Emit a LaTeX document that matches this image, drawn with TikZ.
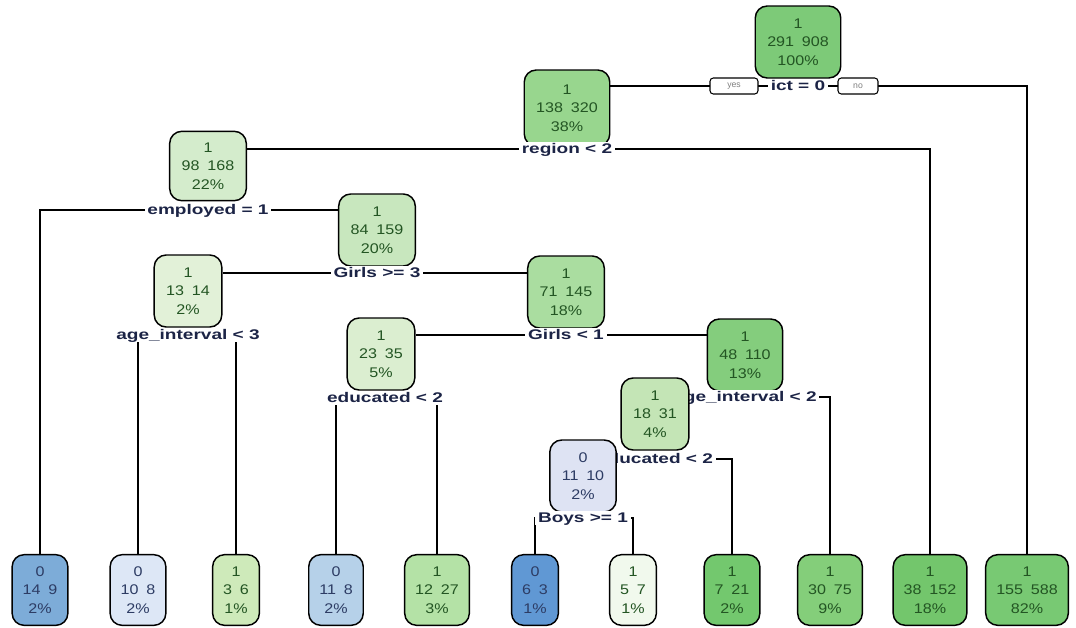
\documentclass[tikz,border=0pt]{standalone}
\usepackage{fontspec}
\setmainfont{Liberation Sans}
\newfontfamily\nodefont[FakeStretch=1.15]{Liberation Sans}
\newfontfamily\labfont[FakeStretch=1.36]{Liberation Sans}
\usetikzlibrary{calc}
\pgfdeclarelayer{bg}
\pgfdeclarelayer{edges}
\pgfsetlayers{bg,edges,main}

% two-space gap between the class counts
\newcommand\twosp{\hspace{0.556em}}

% text colours
\definecolor{gtext}{RGB}{35,85,35}
\definecolor{btext}{RGB}{45,60,100}
\definecolor{labtext}{RGB}{28,36,70}
% box fills
\definecolor{c1}{RGB}{125,202,120}
\definecolor{c2}{RGB}{152,214,142}
\definecolor{c4}{RGB}{212,236,204}
\definecolor{c5}{RGB}{200,231,190}
\definecolor{c10}{RGB}{226,241,216}
\definecolor{c11}{RGB}{170,221,160}
\definecolor{c22}{RGB}{219,238,208}
\definecolor{c23}{RGB}{132,205,125}
\definecolor{c46}{RGB}{196,229,182}
\definecolor{c92}{RGB}{222,227,243}
\definecolor{f1}{RGB}{125,172,216}
\definecolor{f2}{RGB}{221,231,246}
\definecolor{f3}{RGB}{206,234,186}
\definecolor{f4}{RGB}{182,209,233}
\definecolor{f5}{RGB}{180,226,166}
\definecolor{f6}{RGB}{96,152,212}
\definecolor{f7}{RGB}{241,249,237}
\definecolor{f8}{RGB}{115,200,110}
\definecolor{f9}{RGB}{132,206,122}
\definecolor{f10}{RGB}{115,198,108}
\definecolor{f11}{RGB}{120,201,115}

\tikzset{
  tnode/.style={draw=black, line width=1.1pt, rounded corners=9pt,
    minimum height=54pt, inner xsep=9pt, inner ysep=0pt, align=center,
    font=\nodefont\fontsize{10.5}{13.8}\selectfont, text=gtext},
  leaf/.style={tnode, inner xsep=7.9pt, minimum height=53pt},
  bluetxt/.style={text=btext},
  split/.style={fill=white, inner xsep=2pt, inner ysep=0pt,
    text height=8pt, text depth=2pt,
    font=\labfont\bfseries\fontsize{10.5}{12}\selectfont, text=labtext},
  yn/.style={draw=black, line width=0.8pt, rounded corners=2.5pt, fill=white,
    minimum height=12pt, inner sep=0pt,
    font=\fontsize{6.5}{7}\selectfont, text=gray},
  edge/.style={draw=black, line width=1.2pt}
}

\begin{document}
\begin{tikzpicture}[x=0.75pt,y=-0.75pt]
\begin{pgfonlayer}{bg}
\path[use as bounding box, fill=white] (0,0) rectangle (1076,628);
\end{pgfonlayer}

% inner nodes, each followed by its split label
\node[tnode, fill=c1] (n1) at (798,42) {1\\291\twosp 908\\100\%};
\node[split] (s1) at (798,86) {ict = 0};
\node[yn, minimum width=36pt] (yes) at (734,86) {yes};
\node[yn, minimum width=30pt] (no) at (858,86) {no};

\node[tnode, fill=c2, minimum height=57pt] (n2) at (567,108) {1\\138\twosp 320\\38\%};
\node[split] (s2) at (567,149) {region < 2};

\node[tnode, fill=c4, minimum height=52pt] (n4) at (208,166) {1\\98\twosp 168\\22\%};
\node[split] (s4) at (208,210) {employed = 1};

\node[tnode, fill=c5] (n5) at (377,230) {1\\84\twosp 159\\20\%};
\node[split] (s5) at (377,273) {Girls >= 3};

\node[tnode, fill=c10] (n10) at (188,291) {1\\13\twosp 14\\2\%};
\node[split] (s10) at (188,335) {age\_interval < 3};

\node[tnode, fill=c11] (n11) at (566,292) {1\\71\twosp 145\\18\%};
\node[split] (s11) at (566,335) {Girls < 1};

\node[tnode, fill=c22] (n22) at (381,354) {1\\23\twosp 35\\5\%};
\node[split] (s22) at (385,398) {educated < 2};

\node[tnode, fill=c23] (n23) at (745,355) {1\\48\twosp 110\\13\%};
\node[split] (s23) at (745,397) {age\_interval < 2};

\node[tnode, fill=c46] (n46) at (655,414) {1\\18\twosp 31\\4\%};
\node[split] (s46) at (655,459) {educated < 2};

\node[tnode, fill=c92, bluetxt] (n92) at (583,476) {0\\11\twosp 10\\2\%};
\node[split] (s92) at (583,518) {Boys >= 1};

% leaves
\node[leaf, fill=f1, bluetxt] (l1) at (40,590) {0\\14\twosp 9\\2\%};
\node[leaf, fill=f2, bluetxt] (l2) at (138,590) {0\\10\twosp 8\\2\%};
\node[leaf, fill=f3] (l3) at (236,590) {1\\3\twosp 6\\1\%};
\node[leaf, fill=f4, bluetxt] (l4) at (336,590) {0\\11\twosp 8\\2\%};
\node[leaf, fill=f5] (l5) at (437,590) {1\\12\twosp 27\\3\%};
\node[leaf, fill=f6, bluetxt] (l6) at (535,590) {0\\6\twosp 3\\1\%};
\node[leaf, fill=f7] (l7) at (633,590) {1\\5\twosp 7\\1\%};
\node[leaf, fill=f8] (l8) at (732,590) {1\\7\twosp 21\\2\%};
\node[leaf, fill=f9] (l9) at (830,590) {1\\30\twosp 75\\9\%};
\node[leaf, fill=f10] (l10) at (930,590) {1\\38\twosp 152\\18\%};
\node[leaf, fill=f11] (l11) at (1027,590) {1\\155\twosp 588\\82\%};

% branches
\begin{pgfonlayer}{edges}
\draw[edge] (s1.center) -- (s1 -| n2.east);
\draw[edge] (s1.center) -| (l11.north);
\draw[edge] (s2.center) -- (s2 -| n4.east);
\draw[edge] (s2.center) -| (l10.north);
\draw[edge] (s4.center) -| (l1.north);
\draw[edge] (s4.center) -- (s4 -| n5.west);
\draw[edge] (s5.center) -- (s5 -| n10.east);
\draw[edge] (s5.center) -- (s5 -| n11.west);
\draw[edge] (s10.center) -| (l2.north);
\draw[edge] (s10.center) -| (l3.north);
\draw[edge] (s11.center) -- (s11 -| n22.east);
\draw[edge] (s11.center) -- (s11 -| n23.west);
\draw[edge] (s22.center) -| (l4.north);
\draw[edge] (s22.center) -| (l5.north);
\draw[edge] (s23.center) -- (s23 -| n46.center);
\draw[edge] (s23.center) -| (l9.north);
\draw[edge] (s46.center) -- (s46 -| n92.center);
\draw[edge] (s46.center) -| (l8.north);
\draw[edge] (s92.center) -| (l6.north);
\draw[edge] (s92.center) -| (l7.north);
\end{pgfonlayer}
\end{tikzpicture}
\end{document}
